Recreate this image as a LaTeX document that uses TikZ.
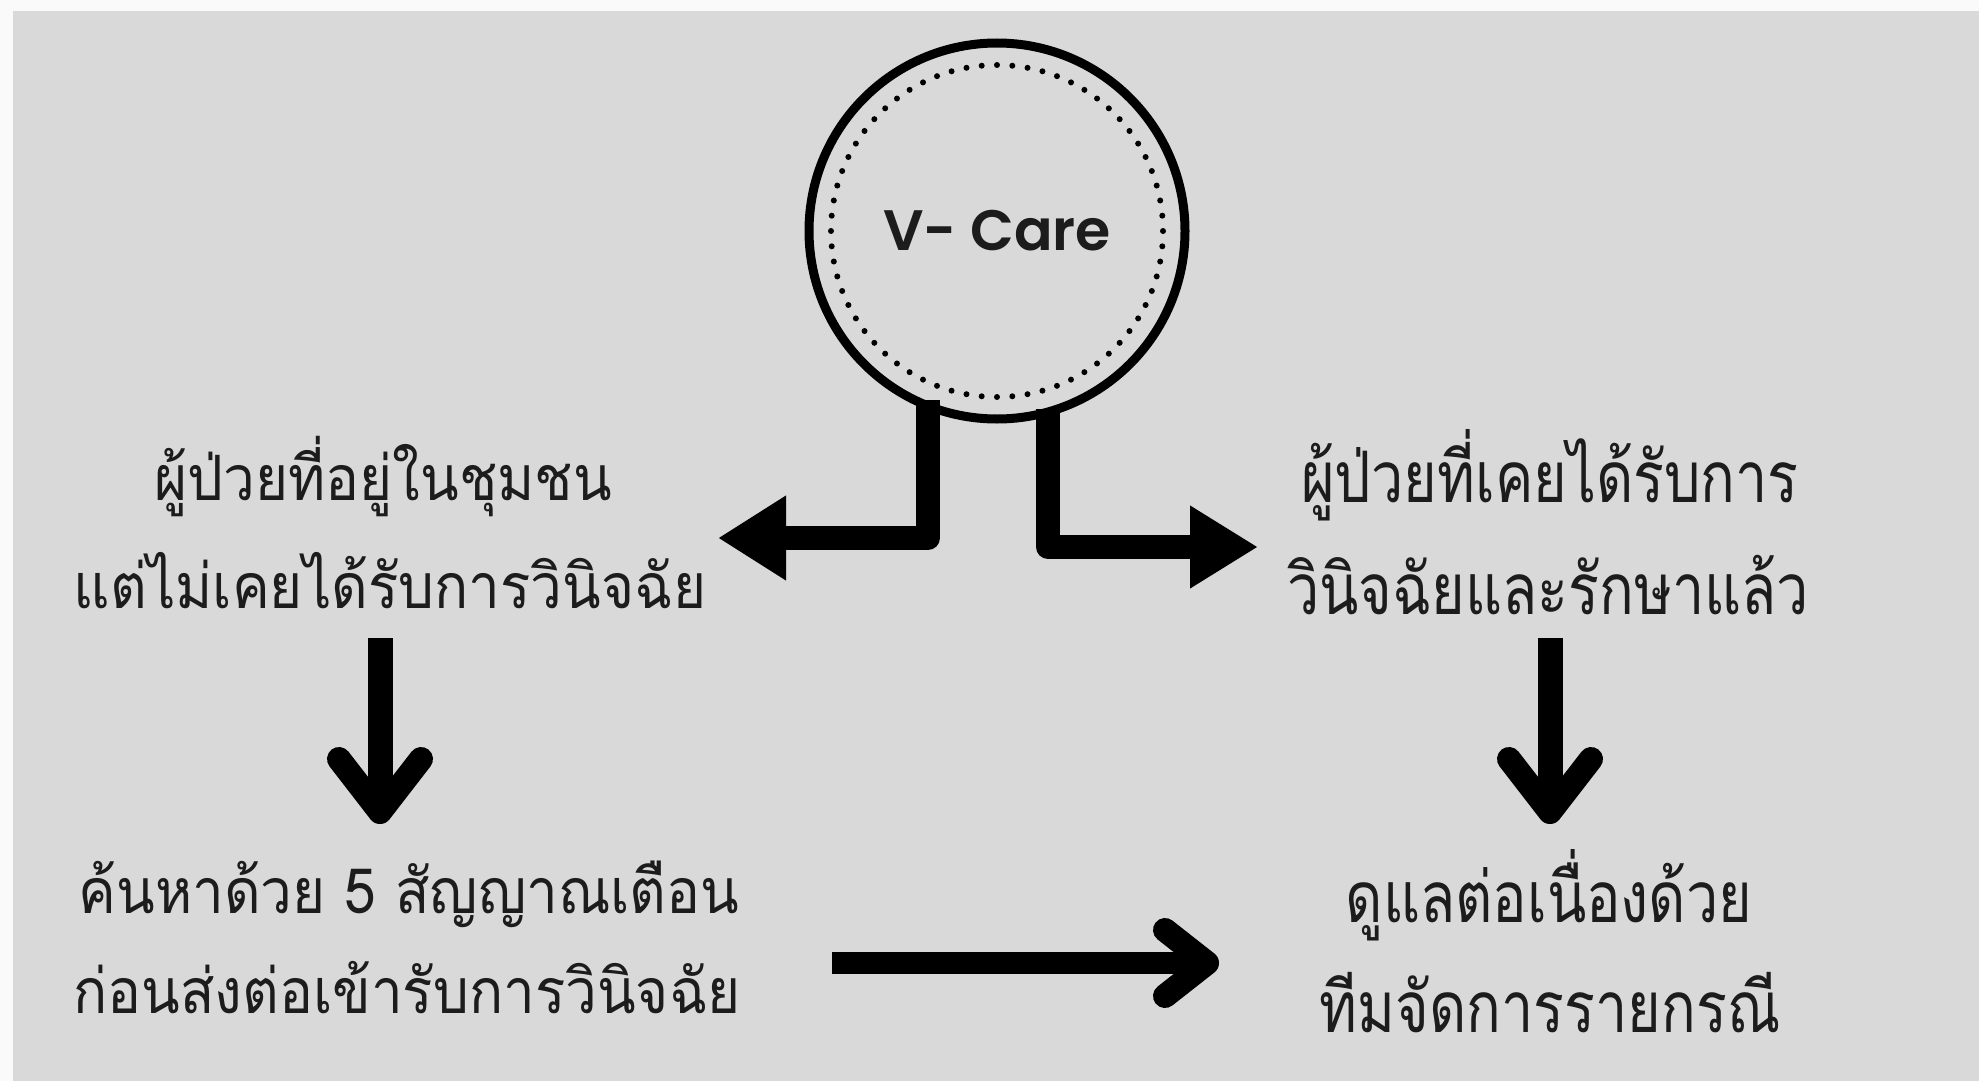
\documentclass[tikz,border=0pt]{standalone}
\usepackage{fontspec}
\usetikzlibrary{arrows.meta,calc}
\newfontfamily\thaiR[Script=Thai,FakeStretch=0.81]{Loma}
\newfontfamily\thaiL[Script=Thai,FakeStretch=0.905]{Loma}
\newfontfamily\vfont{Poppins SemiBold}
\definecolor{bgout}{HTML}{FAFAFA}
\definecolor{bgin}{HTML}{D9D9D9}
\definecolor{ink}{HTML}{1C1C1C}
\begin{document}
\begin{tikzpicture}[x=1pt,y=-1pt,
  txtR/.style={font=\thaiR\fontsize{71}{86}\selectfont, text=ink, anchor=base, inner sep=0pt},
  txtL/.style={font=\thaiL\fontsize{62.5}{76}\selectfont, text=ink, anchor=base, inner sep=0pt},
  conn/.style={line width=24pt, line join=round},
  shaft/.style={line width=25pt},
  chev/.style={line width=24pt, line cap=round, line join=round},
]
\fill[bgout] (0,0) rectangle (1979,1081);
\fill[bgin] (13,11) rectangle (1979,1081);
\useasboundingbox (0,0) rectangle (1979,1081);

% central circle
\node[circle, draw=black, line width=9pt, minimum size=376pt, inner sep=0pt,
      font=\vfont\fontsize{57}{68}\selectfont, text=ink] (vc) at (997,231) {V- Care};
\draw[line width=6pt, line cap=round, dash pattern=on 0pt off 15.34pt] (vc.center) circle[radius=166pt];

% text blocks
\node[txtL] (tl1) at (383,500) {ผู้ป่วยที่อยู่ในชุมชน};
\node[txtL] (tl2) at (390,608) {แต่ไม่เคยได้รับการวินิจฉัย};
\node[txtR] (tr1) at (1550,502) {ผู้ป่วยที่เคยได้รับการ};
\node[txtR] (tr2) at (1548,614) {วินิจฉัยและรักษาแล้ว};
\node[txtL] (bl1) at (409,913) {ค้นหาด้วย 5 สัญญาณเตือน};
\node[txtL] (bl2) at (407,1013) {ก่อนส่งต่อเข้ารับการวินิจฉัย};
\node[txtR] (br1) at (1549,922) {ดูแลต่อเนื่องด้วย};
\node[txtR] (br2) at (1550,1032) {ทีมจัดการรายกรณี};

% connector end points
\coordinate (la) at (718,538);
\coordinate (ra) at (1258,547);
\coordinate (ls) at (380,638);
\coordinate (le) at (380,812);
\coordinate (rs) at (1550,638);
\coordinate (re) at (1550,812);
\coordinate (bs) at (832,963);
\coordinate (be) at (1207,963);

% circle to left / right
\draw[conn, -{Triangle[length=68pt,width=80pt]}] ($(vc.center)+(-69,169)$) |- (la);
\draw[conn, -{Triangle[length=68pt,width=78pt]}] ($(vc.center)+(51,178)$) |- (ra);

% left down arrow
\draw[shaft] (ls) -- ($(le)+(0,-6)$);
\draw[chev] ($(le)+(-41,-53)$) -- (le) -- ($(le)+(41,-53)$);
% right down arrow
\draw[shaft] (rs) -- ($(re)+(0,-6)$);
\draw[chev] ($(re)+(-41,-53)$) -- (re) -- ($(re)+(41,-53)$);
% bottom arrow
\draw[line width=22pt] (bs) -- ($(be)+(-6,0)$);
\draw[chev] ($(be)+(-42,-33)$) -- (be) -- ($(be)+(-42,33)$);
\end{tikzpicture}
\end{document}
